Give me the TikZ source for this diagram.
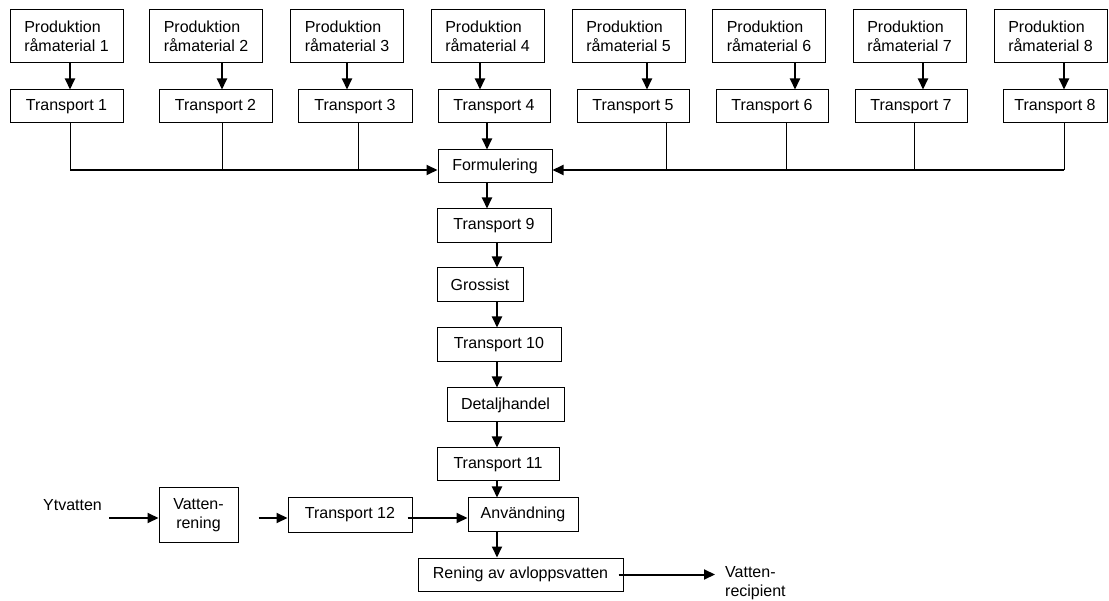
\documentclass[tikz,border=0pt]{standalone}
\usepackage{fontspec}
\setmainfont{Liberation Sans}
\usetikzlibrary{arrows.meta}
\begin{document}
\begin{tikzpicture}[x=1pt,y=-1pt,
  txt/.style={font=\fontsize{16pt}{19pt}\selectfont},
  box/.style={txt, draw, line width=1pt, inner sep=0pt, minimum height=33pt, align=center},
  lbl/.style={txt, inner sep=0pt, align=left},
  arr/.style={line width=2pt, -{Triangle[length=11pt,width=10pt]}},
  thinln/.style={line width=1pt},
  busln/.style={line width=2pt}]
\useasboundingbox (0,0) rectangle (1109,601);
% top rows
\foreach \i/\cx in {1/66.5,2/206,3/347,4/487.5,5/628.5,6/769,7/909.5,8/1050.5}
  \node[box, minimum width=113pt, minimum height=53pt, align=left] (P\i) at (\cx,36.5) {Produktion\\råmaterial \i};
\foreach \i/\cx/\w in {1/66.5/113,2/215.5/113,3/355/114,4/494/112,5/633/112,6/772/112,7/911/112,8/1055/104}
  \node[box, minimum width=\w pt] (T\i) at (\cx,106.5) {Transport \i};
% central column
\node[box, minimum width=114pt] (Form) at (495,166.5) {Formulering};
\node[box, minimum width=114pt, minimum height=34pt] (T9) at (494,226) {Transport 9};
\node[box, minimum width=86pt, minimum height=34pt] (Gross) at (480,285) {Grossist};
\node[box, minimum width=124pt, minimum height=34pt] (T10) at (499,345) {Transport 10};
\node[box, minimum width=117pt, minimum height=34pt] (Det) at (505.5,405) {Detaljhandel};
\node[box, minimum width=122pt] (T11) at (498,464.5) {Transport 11};
\node[box, minimum width=110pt] (Anv) at (523,514.5) {Användning};
\node[box, minimum width=124pt, minimum height=34pt] (T12) at (350,515) {Transport 12};
\node[box, minimum width=79pt, minimum height=54pt] (Vat) at (198.5,515) {Vatten-\\rening};
\node[box, minimum width=205pt] (Ren) at (520.5,574.5) {Rening av avloppsvatten};
\node[lbl] (Yt) at (72.5,505) {Ytvatten};
\node[lbl, anchor=west] (VR) at (725,583) {Vatten-\\recipient};
% coordinates for connector columns
\foreach \i/\ax/\bx in {1/70/70,2/222/222,3/347/358,4/480/480,5/647/666,6/795/786,7/923/914,8/1064/1064}{
  \coordinate (ax\i) at (\ax,0);
  \coordinate (bx\i) at (\bx,0);
  \draw[arr] (ax\i |- P\i.south) -- (ax\i |- T\i.north);
}
\coordinate (bus) at (0,170);
\foreach \i in {1,2,3,5,6,7,8}
  \draw[thinln] (bx\i |- T\i.south) -- (bx\i |- bus);
\draw[busln] (bx1 |- bus) -- (bx3 |- bus);
\draw[arr] (bx3 |- bus) -- (Form.west |- bus);
\draw[busln] (bx8 |- bus) -- (bx5 |- bus);
\draw[arr] (bx5 |- bus) -- (Form.east |- bus);
\coordinate (c487) at (487,0);
\coordinate (c497) at (497,0);
\draw[arr] (c487 |- T4.south) -- (c487 |- Form.north);
\draw[arr] (c487 |- Form.south) -- (c487 |- T9.north);
\draw[arr] (c497 |- T9.south) -- (c497 |- Gross.north);
\draw[arr] (c497 |- Gross.south) -- (c497 |- T10.north);
\draw[arr] (c497 |- T10.south) -- (c497 |- Det.north);
\draw[arr] (c497 |- Det.south) -- (c497 |- T11.north);
\draw[arr] (c497 |- T11.south) -- (c497 |- Anv.north);
\draw[arr] (c497 |- Anv.south) -- (c497 |- Ren.north);
% bottom row
\coordinate (ytend) at (109,518);
\draw[arr] (ytend) -- (Vat.west |- ytend);
\draw[arr, shorten <=20pt] (Vat.east |- ytend) -- (T12.west |- ytend);
\draw[arr, shorten <=-5pt] (T12.east |- ytend) -- (Anv.west |- ytend);
\draw[arr, shorten <=-5pt, shorten >=10pt] (Ren.east) -- (VR.west |- Ren.east);
\end{tikzpicture}
\end{document}
